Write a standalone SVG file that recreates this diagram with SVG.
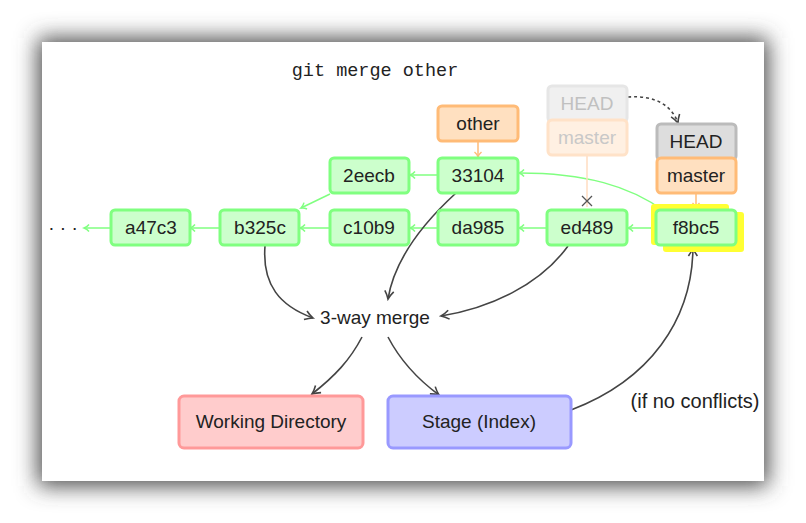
<svg xmlns="http://www.w3.org/2000/svg" width="806" height="523" viewBox="0 0 806 523">
<defs>
<filter id="sh" x="-20%" y="-20%" width="140%" height="140%"><feGaussianBlur stdDeviation="11"/></filter>
<marker id="ag" markerUnits="userSpaceOnUse" markerWidth="12" markerHeight="12" refX="10" refY="6" orient="auto"><path d="M5,2.5 Q7,5 10,6 Q7,7 5,9.5" fill="none" stroke="#80ff80" stroke-width="1.5"/></marker>
<marker id="ao" markerUnits="userSpaceOnUse" markerWidth="12" markerHeight="12" refX="10" refY="6" orient="auto"><path d="M5,2.5 Q7,5 10,6 Q7,7 5,9.5" fill="none" stroke="#ffbb77" stroke-width="1.5"/></marker>
<marker id="ad" markerUnits="userSpaceOnUse" markerWidth="14" markerHeight="14" refX="12" refY="7" orient="auto"><path d="M4,2.5 Q8,5.5 12,7 Q8,8.5 4,11.5" fill="none" stroke="#444" stroke-width="1.6"/></marker>
</defs>
<style>
.t{font-family:"Liberation Sans",Arial,sans-serif;font-size:19px;fill:#222;text-anchor:middle}
.c rect{fill:#ccffcc;stroke:#80ff80;stroke-width:3}
.g{fill:none;stroke:#80ff80;stroke-width:1.5;marker-end:url(#ag)}
.d{fill:none;stroke:#444;stroke-width:1.6;marker-end:url(#ad)}
</style>
<rect x="0" y="0" width="806" height="523" fill="#fff"/>
<rect x="38" y="38" width="730" height="448" fill="#4a4a4a" filter="url(#sh)"/>
<rect x="42" y="42" width="722" height="439" fill="#fff"/>

<text x="375" y="76" style="font-family:'Liberation Mono','Courier New',monospace;font-size:18.5px;fill:#222" text-anchor="middle">git merge other</text>

<g id="connectors">
<path class="g" d="M438,175 L410,175"/>
<path class="g" d="M330,194 L301,208"/>
<path class="g" d="M220,228 L190,228"/>
<path class="g" d="M111,228 L84,228"/>
<path class="g" d="M330,228 L300,228"/>
<path class="g" d="M438,228 L410,228"/>
<path class="g" d="M547,228 L519,228"/>
<path class="g" d="M656,228 L628,228"/>
<path class="g" d="M664,211 C630,186 585,173 519,173"/>
<path d="M478,141 L478,157" fill="none" stroke="#ffbb77" stroke-width="1.5" marker-end="url(#ao)"/>
<path d="M696,193 L696,208" fill="none" stroke="#ffbb77" stroke-width="1.5" marker-end="url(#ao)"/>
<path d="M587,156 L587,207" fill="none" stroke="#ffdcc0" stroke-width="1.5"/>
<path d="M582,196 L592,206 M592,196 L582,206" fill="none" stroke="#555" stroke-width="1.3"/>
<path d="M628,97 C656,95 672,106 678,123" fill="none" stroke="#444" stroke-width="1.6" stroke-dasharray="3,3" marker-end="url(#ad)"/>
<path class="d" d="M456,193 C420,226 394,262 388,299"/>
<path class="d" d="M265,246 C262,285 280,306 313,318"/>
<path class="d" d="M568,246 C540,285 490,308 441,316"/>
<path class="d" d="M362,337 C350,360 335,376 312,394"/>
<path class="d" d="M388,337 C400,360 416,378 439,395"/>
<path class="d" d="M571,410 C650,380 692,320 693,248"/>
</g>

<text class="t" x="63" y="234">· · ·</text>

<g id="a47c3" class="c"><rect x="111" y="210" width="79" height="35" rx="4"/><text class="t" x="151" y="234">a47c3</text></g>
<g id="b325c" class="c"><rect x="220" y="210" width="79" height="35" rx="4"/><text class="t" x="260" y="234">b325c</text></g>
<g id="c10b9" class="c"><rect x="330" y="210" width="79" height="35" rx="4"/><text class="t" x="369" y="234">c10b9</text></g>
<g id="da985" class="c"><rect x="438" y="210" width="80" height="35" rx="4"/><text class="t" x="478" y="234">da985</text></g>
<g id="ed489" class="c"><rect x="547" y="210" width="80" height="35" rx="4"/><text class="t" x="587" y="234">ed489</text></g>
<g id="f8bc5">
<rect x="651" y="204" width="78" height="41" rx="3" fill="#ffff33"/>
<rect x="663" y="212" width="81" height="40" rx="3" fill="#ffff33"/>
<g class="c"><rect x="656" y="210" width="80" height="35" rx="4"/></g>
<text class="t" x="696" y="234">f8bc5</text></g>
<g id="2eecb" class="c"><rect x="330" y="158" width="79" height="35" rx="4"/><text class="t" x="369" y="182">2eecb</text></g>
<g id="33104" class="c"><rect x="438" y="158" width="80" height="35" rx="4"/><text class="t" x="478" y="182">33104</text></g>

<g id="other"><rect x="438" y="106" width="80" height="35" rx="4" fill="#ffe0c0" stroke="#ffbb77" stroke-width="3"/><text class="t" x="478" y="130">other</text></g>

<g id="old-head"><rect x="548" y="86" width="79" height="36" rx="4" fill="#f0f0f0" stroke="#e6e6e6" stroke-width="3"/><text class="t" x="587" y="110" style="fill:#c0c0c0">HEAD</text></g>
<g id="old-master"><rect x="548" y="120" width="79" height="35" rx="4" fill="#fff0e2" stroke="#ffe2c8" stroke-width="3"/><text class="t" x="587" y="144" style="fill:#c8c8c8">master</text></g>

<g id="head"><rect x="657" y="124" width="79" height="36" rx="4" fill="#dddddd" stroke="#bbbbbb" stroke-width="3"/><text class="t" x="696" y="148">HEAD</text></g>
<g id="master"><rect x="657" y="158" width="79" height="35" rx="4" fill="#ffe0c0" stroke="#ffbb77" stroke-width="3"/><text class="t" x="696" y="182">master</text></g>

<g id="merge"><text class="t" x="375" y="324">3-way merge</text></g>

<g id="workdir"><rect x="179" y="396" width="184" height="52" rx="5" fill="#ffcccc" stroke="#ff9999" stroke-width="3"/><text class="t" x="271" y="428">Working Directory</text></g>
<g id="stage"><rect x="388" y="396" width="183" height="52" rx="5" fill="#ccccff" stroke="#9999ff" stroke-width="3"/><text class="t" x="479" y="428">Stage (Index)</text></g>

<g id="note"><text class="t" x="695" y="408" style="font-size:20px">(if no conflicts)</text></g>
</svg>
